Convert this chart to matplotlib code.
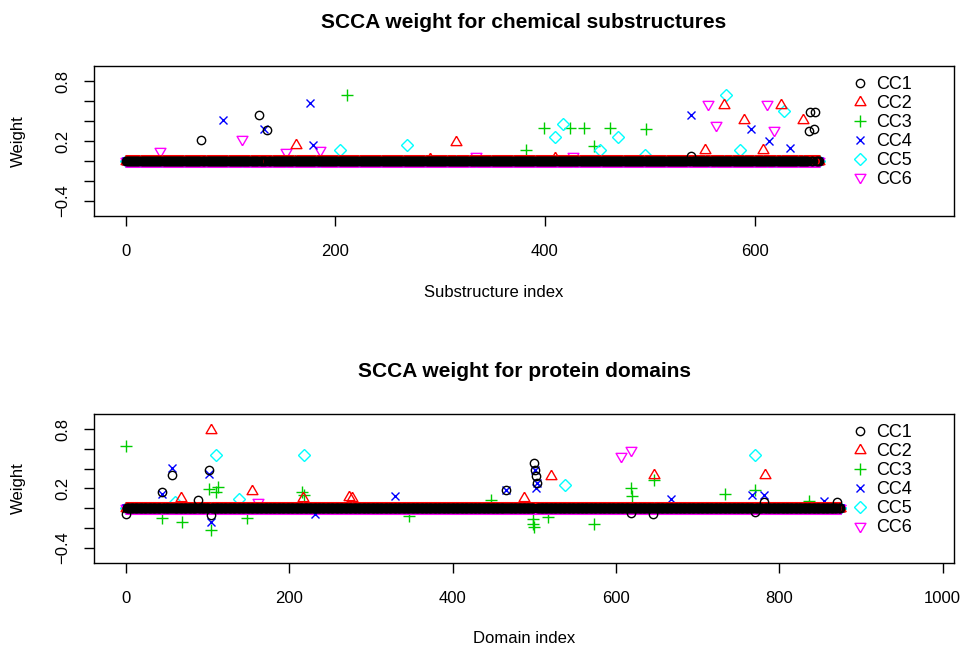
import numpy as np
import matplotlib.pyplot as plt

plt.rcParams['font.family'] = ['Liberation Sans', 'DejaVu Sans']

n_sub = 663
n_dom = 876

# nonzero weights: (index, weight); everything else is 0
sub_cc1 = [(72, 0.21), (127, 0.46), (135, 0.31), (539, 0.045), (652, 0.30),
           (653, 0.49), (657, 0.32), (658, 0.49)]
sub_cc2 = [(162, 0.155), (290, 0.02), (315, 0.19), (410, 0.03), (553, 0.11),
           (571, 0.56), (590, 0.41), (608, 0.105), (625, 0.56), (646, 0.41)]
sub_cc3 = [(211, 0.66), (382, 0.11), (399, 0.33), (424, 0.33), (437, 0.33),
           (447, 0.15), (462, 0.33), (496, 0.32)]
sub_cc4 = [(93, 0.41), (132, 0.325), (176, 0.58), (179, 0.155), (539, 0.46),
           (597, 0.32), (614, 0.195), (634, 0.125)]
sub_cc5 = [(204, 0.11), (268, 0.16), (410, 0.24), (417, 0.375), (453, 0.11),
           (470, 0.24), (495, 0.06), (573, 0.66), (586, 0.11), (628, 0.50)]
sub_cc6 = [(33, 0.10), (111, 0.22), (153, 0.09), (185, 0.11), (334, 0.05),
           (427, 0.05), (556, 0.575), (563, 0.36), (612, 0.575), (619, 0.315)]

dom_cc1 = [(0, -0.06), (44, 0.16), (57, 0.335), (88, 0.085), (102, 0.39),
           (104, -0.07), (465, 0.185), (500, 0.455), (501, 0.39), (502, 0.33),
           (503, 0.26), (619, -0.05), (646, -0.06), (770, -0.04), (781, 0.06),
           (871, 0.065)]
dom_cc2 = [(67, 0.10), (104, 0.79), (154, 0.17), (217, 0.10), (273, 0.115),
           (277, 0.10), (488, 0.10), (520, 0.33), (647, 0.335), (783, 0.335)]
dom_cc3 = [(0, 0.63), (44, -0.10), (69, -0.14), (102, 0.19), (104, -0.225),
           (110, 0.16), (113, 0.22), (148, -0.095), (216, 0.16), (218, 0.13),
           (347, -0.08), (447, 0.085), (498, -0.165), (499, -0.11),
           (500, -0.195), (517, -0.085), (573, -0.165), (618, 0.21),
           (620, 0.125), (647, 0.29), (733, 0.145), (770, 0.185), (836, 0.07)]
dom_cc4 = [(44, 0.14), (57, 0.41), (102, 0.345), (104, -0.14), (232, -0.06),
           (330, 0.125), (465, 0.185), (501, 0.385), (502, 0.21), (503, 0.26),
           (668, 0.09), (767, 0.13), (781, 0.13), (855, 0.07)]
dom_cc5 = [(60, 0.06), (110, 0.545), (138, 0.09), (218, 0.545), (538, 0.24),
           (770, 0.54)]
dom_cc6 = [(162, 0.065), (606, 0.53), (618, 0.59)]

labels = ["CC1", "CC2", "CC3", "CC4", "CC5", "CC6"]
colors = ["black", "red", "#00CD00", "blue", "cyan", "magenta"]

# R style triangles are centred on their centroid, not on the bounding box
tri_up = [(0, 1), (-0.866, -0.5), (0.866, -0.5), (0, 1)]
tri_down = [(0, -1), (-0.866, 0.5), (0.866, 0.5), (0, -1)]
markers = ["o", tri_up, "+", "x", "D", tri_down]
msizes = [6, 9, 8.5, 6, 6, 9]
# drawing order: green first, black last so the zero band looks like the original
draw_order = [2, 4, 5, 3, 1, 0]


def weights(n, pairs):
    w = np.zeros(n)
    for i, v in pairs:
        w[i] = v
    return w


def panel(ax, n, series, xlim, xticks, title, xlabel, fig_title_y,
          xlabel_x, fig_xlabel_y):
    x = np.arange(n)
    for k in draw_order:
        ax.plot(x, weights(n, series[k]), linestyle="none", marker=markers[k],
                ms=msizes[k], mfc="none", mec=colors[k], mew=1.0)
    handles = [plt.Line2D([], [], linestyle="none", marker=markers[k], ms=msizes[k],
                          mfc="none", mec=colors[k], mew=1.0) for k in range(6)]
    ax.legend(handles, labels, loc="upper left", bbox_to_anchor=(0.872, 0.982),
              frameon=False, fontsize=13, handlelength=1.0, handletextpad=0.4,
              labelspacing=0.11, borderaxespad=0, borderpad=0.4)
    ax.set_xlim(xlim)
    ax.set_ylim(-0.556, 0.956)
    ax.set_xticks(xticks)
    yt = [-0.4, -0.2, 0.0, 0.2, 0.4, 0.6, 0.8]
    ax.set_yticks(yt)
    ax.set_yticklabels(["\u22120.4", "", "", "0.2", "", "", "0.8"],
                       rotation=90, va="center")
    ax.tick_params(direction="out", length=7, width=1, labelsize=12)
    ax.tick_params(axis="x", pad=13)
    ax.tick_params(axis="y", pad=10)
    for s in ax.spines.values():
        s.set_linewidth(1)
    ax.set_ylabel("Weight", fontsize=12)
    ax.yaxis.set_label_coords(-0.079, 0.5)
    fig.text(0.5425, fig_title_y, title, ha="center", va="center",
             fontsize=15, fontweight="bold")
    fig.text(xlabel_x, fig_xlabel_y, xlabel, ha="center", va="center", fontsize=12)


fig = plt.figure(figsize=(9.66, 6.48), dpi=100)
ax1 = fig.add_axes([0.0973, 0.6667, 0.8903, 0.2315])
ax2 = fig.add_axes([0.0973, 0.1312, 0.8903, 0.2299])

panel(ax1, n_sub, [sub_cc1, sub_cc2, sub_cc3, sub_cc4, sub_cc5, sub_cc6],
      (-30.4, 790.4), [0, 200, 400, 600],
      "SCCA weight for chemical substructures", "Substructure index", 0.966,
      0.511, 0.549)
panel(ax2, n_dom, [dom_cc1, dom_cc2, dom_cc3, dom_cc4, dom_cc5, dom_cc6],
      (-39, 1014), [0, 200, 400, 600, 800, 1000],
      "SCCA weight for protein domains", "Domain index", 0.426,
      0.5425, 0.0154)

fig.savefig("out.png", dpi=100)
